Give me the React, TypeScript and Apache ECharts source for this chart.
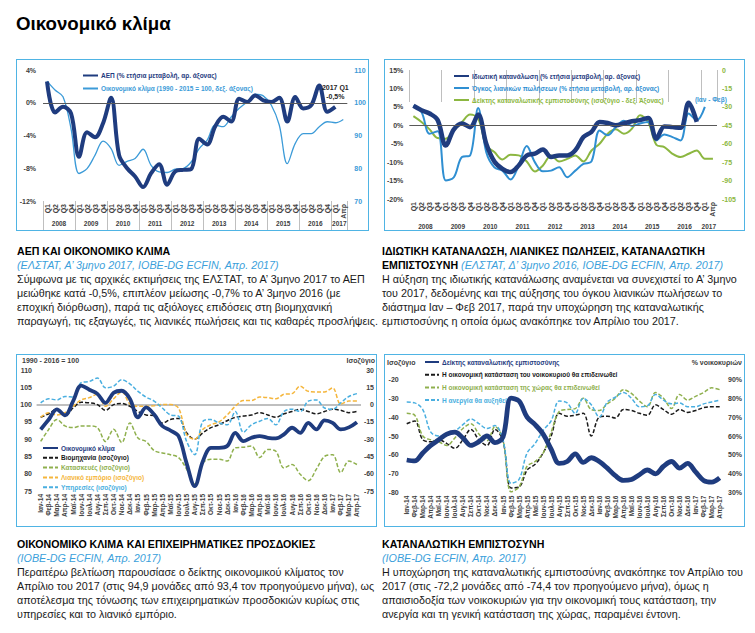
import React, { useEffect, useRef } from 'react';
import * as echarts from 'echarts';

const FONT = '"Liberation Sans", Arial, Helvetica, sans-serif';
const NAVY = '#1f3c7f';
const LBLUE = '#3c9bd8';
const MBLUE = '#2f8fd2';
const GREEN = '#8cb741';
const AXIS_TXT = '#404040';
const BLACK = '#1a1a1a';
const DGREEN = '#8fb04e';
const ORANGE = '#f5b63c';
const SKY = '#4aafe0';

// ---------- categories ----------
const quarters = ['Q1', 'Q2', 'Q3', 'Q4'];
const fullYears = ['2008', '2009', '2010', '2011', '2012', '2013', '2014', '2015', '2016'];
const lastYear = '2017';
const lastYearCats = ['Q1', 'Απρ'];
const monthNames = ['Ιαν', 'Φεβ', 'Μαρ', 'Απρ', 'Μαϊ', 'Ιουν', 'Ιουλ', 'Αυγ', 'Σεπ', 'Οκτ', 'Νοε', 'Δεκ'];
const monthYears = ['14', '15', '16', '17'];
const monthCount = 40;

const qCats = [...fullYears.flatMap(() => quarters), ...lastYearCats];
const qCatYears = [...fullYears.flatMap((y) => quarters.map(() => y)), ...lastYearCats.map(() => lastYear)];
const monthCats = monthYears.flatMap((y) => monthNames.map((m) => `${m}-${y}`)).slice(0, monthCount);

// ---------- chart 1: GDP & economic climate ----------
const gdp = [2.6, -1.2, -0.5, -1.3, -6.6, -3.6, -4.2, -2.5, 0.6, -6.4, -8.0, -9.0, -10.3, -8.6, -7.5, -10.0, -8.4, -8.2, -8.1, -4.4, -5.1, -2.9, -1.7, -2.3, 0.5, 0.1, 0.9, 0.3, 0.1, 0.6, -2.3, 0.7, -0.7, -0.3, 2.1, -1.1, -0.5, null];
const climateQ = [106.6, 103.9, 101.8, 92.1, 78.4, 79.9, 84.0, 88.3, 86.0, 80.9, 82.1, 83.0, 85.8, 80.9, 78.9, 78.7, 79.7, 79.9, 81.9, 86.0, 88.6, 93.2, 92.7, 95.7, 98.3, 100.3, 102.6, 102.1, 99.3, 93.2, 81.4, 87.6, 90.6, 90.6, 92.7, 94.2, 93.9, 94.9];

// ---------- chart 2: consumption, retail, confidence ----------
const privCons = [5.3, 4.1, 3.2, 1.4, -5.5, -1.1, 0.5, -0.5, 2.9, -5.0, -9.8, -11.8, -12.7, -10.9, -8.2, -7.7, -6.6, -8.6, -8.2, -8.2, -6.8, -3.2, -1.8, 0.9, 0.6, 0.0, 0.5, 1.1, 1.4, 2.0, -3.6, -0.3, -0.5, -0.7, 6.1, 0.9, null, null];
const retailVol = [5.3, 3.6, -2.3, -1.6, -15.0, -14.1, -8.6, -8.2, 4.7, -7.3, -11.4, -12.3, -14.7, -10.9, -5.6, -10.0, -12.5, -12.3, -11.4, -14.1, -12.3, -10.5, -9.8, -1.4, -2.7, -0.5, 1.2, -0.2, 0.5, 0.9, -4.1, -2.5, -3.2, -4.1, 3.2, 1.4, 5.0, null];
const consConfQ = [-37.6, -42.3, -48.3, -55.4, -55.9, -49.1, -42.3, -36.3, -39.5, -61.4, -66.8, -72.8, -69.0, -69.5, -74.5, -82.6, -77.7, -69.5, -74.5, -72.3, -69.5, -74.5, -65.5, -60.0, -51.8, -48.3, -51.8, -47.7, -36.8, -42.3, -60.8, -62.7, -68.2, -70.9, -68.2, -65.5, -72.3, -72.2];

// ---------- chart 3: climate & business expectations ----------
const climateM = [92.8, 95.7, 98.6, 96.9, 101.0, 105.5, 104.3, 103.1, 100.5, 103.4, 104.0, 101.7, 96.3, 99.2, 97.1, 93.8, 92.5, 90.9, 83.0, 76.4, 83.6, 87.5, 87.5, 88.0, 91.8, 89.4, 90.4, 90.9, 90.4, 90.2, 91.4, 93.3, 91.8, 94.7, 92.8, 95.4, 94.7, 92.8, 93.4, 94.9];
const industry = [-11, -8, -4, -9.5, -3, 2, 1.5, 0, -5, 0, 1, -1.5, -6, -9, -9.5, -16, -13, -12, -24.5, -30, -24.5, -20, -17.5, -14, -11, -10, -9, -7, -9, -11, -8, -6, -4, -6, -8, -6, -4, -5, -7, -6];
const construction = [-32, -21.5, -13, -18.5, -20, -18.5, -18.5, -20, -32, -21.5, -33, -16, -29, -32, -40, -42, -43.5, -46, -56, -69, -50.5, -47.5, -47.5, -49, -37.5, -37, -36, -46, -39, -40.5, -55, -52, -60.5, -66, -56, -45, -43.5, -59, -49, -52];
const retailTrade = [-11, -7, -9, -7, -1.5, 4, 6, 9, -1.5, 5, 11, 0.5, -1.5, -1.5, -1, 0, 0, -3, -26, -30, -21.5, -17.5, -15, -9, -1.5, 3.5, 3.5, 6.5, 6, 5, 9, 9.5, 16, 11.5, 11, 11, 14.5, 0.5, 3, 3];
const services = [1.5, 5, 4, 7, 6.5, 19, 20, 23, 14.5, 16, 21.5, 18, 11.5, 6.5, 3, -3, -9, -10, -32, -43.5, -14.5, -13, -16, -17.5, -6, -24, -17.5, -14.5, -12, -17.5, -6, -4, -6, 3, 4, -3, -4, 1.5, 7, 9.5];

// ---------- chart 4: consumer confidence ----------
const consConfM = [-62.7, -63.2, -59, -55, -52, -49, -48, -51, -55, -53, -50, -53.5, -50.5, -30, -31.5, -40, -44, -49, -57, -64.5, -63.5, -59.5, -64, -61.5, -63.5, -67, -71, -73.5, -73, -70.5, -68, -70, -66, -63.5, -67, -64.5, -69, -73.5, -74.4, -72.2];
const householdWorse = [66.5, 68, 58, 57, 58, 56, 53.5, 58, 63.5, 58, 55, 63.5, 57.5, 32.5, 33, 42, 45, 51, 60, 72, 70.5, 71, 72, 60, 70, 70.5, 69.5, 74, 73.5, 72, 71, 76.5, 74, 71.5, 74, 72.5, 73.5, 75, 75.5, 75.5];
const countryWorse = [72, 71, 60, 58, 57, 55, 59, 64, 66.5, 61, 57.5, 65, 58, 30.5, 33, 44, 46.5, 51, 62, 73, 74, 74.5, 80, 74, 73.5, 77, 80, 84.5, 82.5, 78.5, 75.5, 83, 80, 74.5, 82, 79, 81, 83, 85.5, 84.5];
const unemploymentUp = [78, 77.5, 74, 62, 60, 60.5, 62.5, 66, 69, 66.5, 64, 65.5, 58, 35, 37, 51, 56, 63, 68, 78.5, 77.5, 72, 80, 76.5, 70, 78, 80.5, 83, 80, 75.5, 76, 82, 79, 77, 77.5, 75.5, 75.5, 77, 78, 79];

// ---------- helpers ----------
const DASH = [4, 2];

const valueAxis = (position: string, min: number, max: number, interval: number, formatter: string, color: string, margin: number, align?: string) => ({
  type: 'value', position, min, max, interval,
  splitLine: { show: false }, axisLine: { show: false }, axisTick: { show: false },
  axisLabel: { formatter, color, fontSize: 7, fontWeight: 'bold', fontFamily: FONT, margin, ...(align ? { align } : {}) },
});

const quarterXAxes = (tickLen: number, yearMargin: number) => [
  {
    type: 'category', data: qCats, boundaryGap: true, position: 'bottom',
    axisLine: { show: false }, axisTick: { show: false }, splitLine: { show: false },
    axisLabel: { interval: 0, rotate: 90, margin: 3, fontSize: 7, fontWeight: 'bold', color: AXIS_TXT, fontFamily: FONT },
  },
  {
    type: 'category', data: qCatYears, boundaryGap: true, position: 'bottom',
    axisLine: { show: false }, splitLine: { show: false },
    axisTick: { show: true, length: tickLen, interval: (i: number) => i % 4 === 0, lineStyle: { color: '#bfbfbf', width: 1 } },
    axisLabel: {
      interval: (i: number) => (i % 4 === 1 && i < 36) || i === 36,
      margin: yearMargin, fontSize: 6.5, fontWeight: 'bold', color: AXIS_TXT, fontFamily: FONT, padding: [0, 0, 0, 8],
    },
  },
];

const monthXAxis = () => ({
  type: 'category', data: monthCats, boundaryGap: true,
  axisLine: { show: false }, axisTick: { show: false }, splitLine: { show: false },
  axisLabel: { interval: 0, rotate: 90, margin: 3, fontSize: 6.5, fontWeight: 'bold', color: AXIS_TXT, fontFamily: FONT },
});

const legendBase = (left: number, top: number, gap: number, itemWidth: number, names: string[], colors: string[]) => ({
  orient: 'vertical', left, top, padding: 0, itemWidth, itemHeight: 7, itemGap: gap, selectedMode: false,
  itemStyle: { opacity: 0 },
  textStyle: { fontSize: 6.5, fontWeight: 'bold', fontFamily: FONT, padding: [0, 0, 0, -2] },
  data: names.map((n, i) => ({ name: n, textStyle: { color: colors[i] } })),
});

const line = (name: string, data: (number | null)[], color: string, width: number, yAxisIndex: number, z: number, dashed = false, extra: any = {}) => ({
  name, type: 'line', data, yAxisIndex, smooth: 0.35, symbol: 'none', connectNulls: false, z,
  lineStyle: { color, width, type: dashed ? DASH : 'solid' },
  itemStyle: { color },
  ...extra,
});

// ---------- options ----------
function option1() {
  const n1 = 'ΑΕΠ (% ετήσια μεταβολή, αρ. άξονας)';
  const n2 = 'Οικονομικό κλίμα (1990 - 2015 = 100, δεξ. άξονας)';
  return {
    animation: false,
    textStyle: { fontFamily: FONT },
    grid: { left: 27, right: 19, top: 11, bottom: 30 },
    legend: legendBase(66, 13, 6, 15, [n1, n2], [NAVY, LBLUE]),
    xAxis: quarterXAxes(30, 19),
    yAxis: [
      valueAxis('left', -12, 4, 4, '{value}%', AXIS_TXT, 7),
      valueAxis('right', 70, 110, 10, '{value}', LBLUE, 7),
    ],
    series: [
      line(n2, climateQ, LBLUE, 1.3, 1, 2, false, {
        markLine: { silent: true, symbol: ['none', 'none'], label: { show: false }, lineStyle: { color: '#595959', width: 1, type: 'solid' }, data: [{ yAxis: 100 }] },
      }),
      line(n1, gdp, NAVY, 4, 0, 3, false, {
        markPoint: {
          symbol: 'circle', symbolSize: 1, itemStyle: { color: 'rgba(0,0,0,0)' },
          label: { show: true, position: 'top', distance: 5, formatter: '2017 Q1\n-0,5%', fontSize: 7, fontWeight: 'bold', color: '#262626', lineHeight: 9, align: 'center', fontFamily: FONT },
          data: [{ coord: [36, gdp[36]] }],
        },
      }),
    ],
  };
}

function option2() {
  const n1 = 'Ιδιωτική κατανάλωση (% ετήσια μεταβολή, αρ. άξονας)';
  const n2 = 'Όγκος λιανικών πωλήσεων (% ετήσια μεταβολή, αρ. άξονας)';
  const n3 = 'Δείκτης καταναλωτικής εμπιστοσύνης (ισοζύγιο - δεξ. Άξονας)';
  return {
    animation: false,
    textStyle: { fontFamily: FONT },
    grid: { left: 24, right: 28, top: 11, bottom: 32 },
    legend: legendBase(69, 13.5, 5, 15, [n1, n2, n3], [NAVY, MBLUE, GREEN]),
    xAxis: quarterXAxes(32, 24),
    yAxis: [
      valueAxis('left', -20, 15, 5, '{value}%', AXIS_TXT, 6),
      valueAxis('right', -105, 0, 15, '{value}', GREEN, 5),
    ],
    series: [
      line(n3, consConfQ, GREEN, 2, 1, 2),
      line(n2, retailVol, MBLUE, 2, 0, 3, false, {
        markLine: { silent: true, symbol: ['none', 'none'], label: { show: false }, lineStyle: { color: '#595959', width: 1, type: 'solid' }, data: [{ yAxis: 0 }] },
        markPoint: {
          symbol: 'circle', symbolSize: 1, itemStyle: { color: 'rgba(0,0,0,0)' },
          label: { show: true, position: 'top', distance: 3, offset: [6, 0], formatter: '(Ιαν - Φεβ)', fontSize: 6.5, fontWeight: 'bold', color: LBLUE, fontFamily: FONT },
          data: [{ coord: [36, retailVol[36]] }],
        },
      }),
      line(n1, privCons, NAVY, 4.5, 0, 4),
    ],
  };
}

function option3() {
  const names = ['Οικονομικό κλίμα', 'Βιομηχανία (ισοζύγιο)', 'Κατασκευές (ισοζύγιο)', 'Λιανικό εμπόριο (ισοζύγιο)', 'Υπηρεσίες (ισοζύγιο)'];
  const colors = [NAVY, BLACK, DGREEN, ORANGE, SKY];
  return {
    animation: false,
    textStyle: { fontFamily: FONT },
    grid: { left: 20.6, right: 15.3, top: 16, bottom: 36 },
    legend: legendBase(26, 90.5, 2.8, 15, names, colors),
    graphic: [
      { type: 'text', x: 6, y: 6, style: { text: '1990 - 2016 = 100', fill: AXIS_TXT, fontSize: 7, fontWeight: 'bold', fontFamily: FONT, align: 'left', verticalAlign: 'middle' } },
      { type: 'text', x: 359, y: 6, style: { text: 'Ισοζύγιο', fill: AXIS_TXT, fontSize: 7, fontWeight: 'bold', fontFamily: FONT, align: 'right', verticalAlign: 'middle' } },
    ],
    xAxis: monthXAxis(),
    yAxis: [
      valueAxis('left', 75, 110, 5, '{value}', AXIS_TXT, 4.6),
      valueAxis('right', -75, 30, 15, '{value}', AXIS_TXT, 13, 'right'),
    ],
    series: [
      line(names[1], industry, BLACK, 1.5, 1, 2, true, {
        markLine: { silent: true, symbol: ['none', 'none'], label: { show: false }, lineStyle: { color: '#bfbfbf', width: 2, type: 'solid' }, data: [{ yAxis: 0 }], z: 1 },
      }),
      line(names[2], construction, DGREEN, 1.5, 1, 2, true),
      line(names[3], retailTrade, ORANGE, 1.5, 1, 2, true),
      line(names[4], services, SKY, 1.5, 1, 2, true),
      line(names[0], climateM, NAVY, 3.8, 0, 4),
    ],
  };
}

function option4() {
  const names = ['Δείκτης καταναλωτικής εμπιστοσύνης', 'Η οικονομική κατάσταση του νοικοκυριού θα επιδεινωθεί', 'Η οικονομική κατάσταση της χώρας θα επιδεινωθεί', 'Η ανεργία θα αυξηθεί'];
  const colors = [NAVY, BLACK, DGREEN, SKY];
  return {
    animation: false,
    textStyle: { fontFamily: FONT },
    grid: { left: 18.7, right: 19.3, top: 25.3, bottom: 34.3 },
    legend: legendBase(40, 4.5, 5.7, 14, names, colors),
    graphic: [
      { type: 'text', x: 3, y: 8, style: { text: 'Ισοζύγιο', fill: AXIS_TXT, fontSize: 7, fontWeight: 'bold', fontFamily: FONT, align: 'left', verticalAlign: 'middle' } },
      { type: 'text', x: 358, y: 8, style: { text: '% νοικοκυριών', fill: AXIS_TXT, fontSize: 7, fontWeight: 'bold', fontFamily: FONT, align: 'right', verticalAlign: 'middle' } },
    ],
    xAxis: monthXAxis(),
    yAxis: [
      valueAxis('left', -80, -20, 10, '{value}', AXIS_TXT, 4),
      valueAxis('right', 30, 90, 10, '{value}%', AXIS_TXT, 4.3),
    ],
    series: [
      line(names[1], householdWorse, BLACK, 1.5, 1, 2, true),
      line(names[2], countryWorse, DGREEN, 1.5, 1, 2, true),
      line(names[3], unemploymentUp, SKY, 1.5, 1, 2, true),
      line(names[0], consConfM, NAVY, 4.8, 0, 4),
    ],
  };
}

// ---------- layout ----------
const BORDER = '#4fb4e4';
const SUB = '#3b9fdb';

type PanelProps = { x: number; y: number; w: number; h: number; r: React.RefObject<HTMLDivElement | null> };
const Panel = ({ x, y, w, h, r }: PanelProps) => (
  <>
    <div ref={r} style={{ position: 'absolute', left: x, top: y, width: w, height: h }} />
    <div style={{ position: 'absolute', left: x, top: y, width: w, height: h, border: `1.5px solid ${BORDER}`, boxSizing: 'border-box', pointerEvents: 'none' }} />
  </>
);

const Block = ({ x, y, children }: { x: number; y: number; children: React.ReactNode }) => (
  <div style={{ position: 'absolute', left: x, top: y, fontSize: 10.75, lineHeight: '14px', whiteSpace: 'nowrap', color: '#1a1a1a' }}>{children}</div>
);
const H = ({ children }: { children: React.ReactNode }) => <span style={{ fontWeight: 'bold', color: '#000', fontSize: 10.6 }}>{children}</span>;
const S = ({ children }: { children: React.ReactNode }) => <span style={{ fontStyle: 'italic', color: SUB }}>{children}</span>;

export default function App() {
  const r1 = useRef<HTMLDivElement>(null);
  const r2 = useRef<HTMLDivElement>(null);
  const r3 = useRef<HTMLDivElement>(null);
  const r4 = useRef<HTMLDivElement>(null);

  useEffect(() => {
    const pairs: [React.RefObject<HTMLDivElement | null>, any][] = [
      [r1, option1()], [r2, option2()], [r3, option3()], [r4, option4()],
    ];
    const charts = pairs.map(([ref, opt]) => {
      const c = echarts.init(ref.current as HTMLDivElement, undefined, { renderer: 'svg' });
      c.setOption(opt);
      return c;
    });
    return () => charts.forEach((c) => c.dispose());
  }, []);

  return (
    <div style={{ position: 'absolute', left: 0, top: 0, width: 755, height: 633, background: '#fff', fontFamily: FONT, overflow: 'hidden' }}>
      <div style={{ position: 'absolute', left: 16, top: 14, fontSize: 18.7, fontWeight: 'bold', lineHeight: '20px', color: '#000' }}>Οικονομικό κλίμα</div>

      <Panel x={16} y={59} w={353} h={172} r={r1} />
      <Panel x={384} y={59} w={361} h={172} r={r2} />
      <Panel x={16} y={354} w={361} h={173} r={r3} />
      <Panel x={384} y={354} w={361} h={173} r={r4} />

      <Block x={17} y={244}>
        <div><H>ΑΕΠ ΚΑΙ ΟΙΚΟΝΟΜΙΚΟ ΚΛΙΜΑ</H></div>
        <div><S>(ΕΛΣΤΑΤ, Α’ 3μηνο 2017, IOBE-DG ECFIN, Απρ. 2017)</S></div>
        <div>Σύμφωνα με τις αρχικές εκτιμήσεις της ΕΛΣΤΑΤ, το Α’ 3μηνο 2017 το ΑΕΠ</div>
        <div>μειώθηκε κατά -0,5%, επιπλέον μείωσης -0,7% το Α’ 3μηνο 2016 (με</div>
        <div>εποχική διόρθωση), παρά τις αξιόλογες επιδόσεις στη βιομηχανική</div>
        <div>παραγωγή, τις εξαγωγές, τις λιανικές πωλήσεις και τις καθαρές προσλήψεις.</div>
      </Block>

      <Block x={382} y={244}>
        <div><H>ΙΔΙΩΤΙΚΗ ΚΑΤΑΝΑΛΩΣΗ, ΛΙΑΝΙΚΕΣ ΠΩΛΗΣΕΙΣ, ΚΑΤΑΝΑΛΩΤΙΚΗ</H></div>
        <div><H>ΕΜΠΙΣΤΟΣΥΝΗ</H> <S>(ΕΛΣΤΑΤ, Δ’ 3μηνο 2016, IOBE-DG ECFIN, Απρ. 2017)</S></div>
        <div>Η αύξηση της ιδιωτικής κατανάλωσης αναμένεται να συνεχιστεί το Α’ 3μηνο</div>
        <div>του 2017, δεδομένης και της αύξησης του όγκου λιανικών πωλήσεων το</div>
        <div>διάστημα Ιαν – Φεβ 2017, παρά την υποχώρηση της καταναλωτικής</div>
        <div>εμπιστοσύνης η οποία όμως ανακόπηκε τον Απρίλιο του 2017.</div>
      </Block>

      <Block x={17} y={537}>
        <div><H>ΟΙΚΟΝΟΜΙΚΟ ΚΛΙΜΑ ΚΑΙ ΕΠΙΧΕΙΡΗΜΑΤΙΚΕΣ ΠΡΟΣΔΟΚΙΕΣ</H></div>
        <div><S>(IOBE-DG ECFIN, Απρ. 2017)</S></div>
        <div>Περαιτέρω βελτίωση παρουσίασε ο δείκτης οικονομικού κλίματος τον</div>
        <div>Απρίλιο του 2017 (στις 94,9 μονάδες από 93,4 τον προηγούμενο μήνα), ως</div>
        <div>αποτέλεσμα της τόνωσης των επιχειρηματικών προσδοκιών κυρίως στις</div>
        <div>υπηρεσίες και το λιανικό εμπόριο.</div>
      </Block>

      <Block x={382} y={537}>
        <div><H>ΚΑΤΑΝΑΛΩΤΙΚΗ ΕΜΠΙΣΤΟΣΥΝΗ</H></div>
        <div><S>(IOBE-DG ECFIN, Απρ. 2017)</S></div>
        <div>Η υποχώρηση της καταναλωτικής εμπιστοσύνης ανακόπηκε τον Απρίλιο του</div>
        <div>2017 (στις -72,2 μονάδες από -74,4 τον προηγούμενο μήνα), όμως η</div>
        <div>απαισιοδοξία των νοικοκυριών για την οικονομική τους κατάσταση, την</div>
        <div>ανεργία και τη γενική κατάσταση της χώρας, παραμένει έντονη.</div>
      </Block>
    </div>
  );
}
